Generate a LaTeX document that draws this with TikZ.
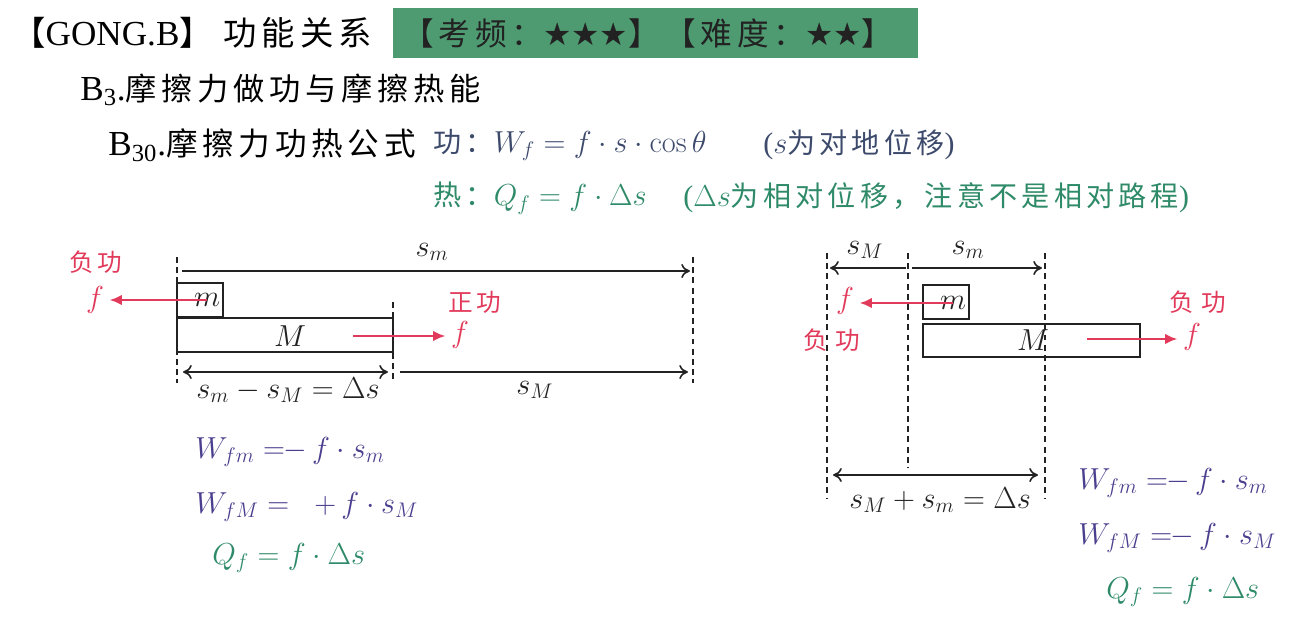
\documentclass[tikz,border=0pt]{standalone}
\usepackage[no-math]{fontspec}
\setmainfont{Liberation Serif}
\newfontfamily\cjk[LetterSpace=15]{Noto Sans CJK SC}
\newfontfamily\symfont{DejaVu Sans}
\usetikzlibrary{arrows.meta,positioning}

\definecolor{frcol}{HTML}{E23A5A}
\definecolor{wcol}{HTML}{4A3F8E}
\definecolor{qcol}{HTML}{2E8A68}
\definecolor{bandcol}{HTML}{4E9B72}
\definecolor{inkcol}{HTML}{222222}
\definecolor{defcol}{HTML}{3D4A6C}

\newcommand{\fs}[1]{\fontsize{#1}{#1}\selectfont}

\tikzset{
  dimtip/.tip={To[length=5pt,width=8pt]},
  txt/.style={inner sep=0pt, anchor=west},
  mth/.style={inner sep=0pt, text=inkcol, font=\fs{17}},
  blk/.style={draw=inkcol, line width=1.1pt},
  guide/.style={draw=inkcol, line width=1pt, dash pattern=on 3.4pt off 2.4pt},
  dim/.style={draw=inkcol, line width=0.9pt, -dimtip},
  dimboth/.style={draw=inkcol, line width=0.9pt, dimtip-dimtip},
  force/.style={draw=frcol, line width=1.7pt, -{Latex[length=7pt,width=6pt]}, shorten >=3pt},
  flbl/.style={text=frcol, inner sep=0pt, font=\fs{17}},
  wlbl/.style={text=frcol, inner sep=0pt, font=\cjk\fs{14}},
}

\begin{document}
\begin{tikzpicture}[x=0.02cm, y=-0.02cm]
  \useasboundingbox (0,0) rectangle (1310,621);

  % heading
  \node[txt, font=\fs{20}] (title) at (12,33) {{\cjk\fs{19}【}GONG.B{\cjk\fs{19}】\hspace{6pt}功能关系}};
  \node[fill=bandcol, minimum width=10.5cm, minimum height=1cm, inner sep=0pt, anchor=north west] (band) at (393,8) {};
  \node[inner sep=0pt, text=inkcol, font=\cjk\fs{18}] (freq) at (648,33) {【考频：{\symfont ★★★}】【难度：{\symfont ★★}】};
  \node[txt, font=\fs{20}] (secBthree) at (80,90) {B\textsubscript{3}.{\cjk\fs{17.8}摩擦力做功与摩擦热能}};
  \node[txt, font=\fs{20}] (secBthirty) at (108,145) {B\textsubscript{30}.{\cjk\fs{18}摩擦力功热公式}};
  \node[txt, text=defcol, font=\fs{17}] (wdef) at (433,145) {{\cjk\fs{16}功：}$W_f = f\cdot s\cdot\cos\theta$};
  \node[txt, text=defcol, font=\fs{17}] (wnote) at (763,145) {($s${\cjk\fs{16}为对地位移})};
  \node[txt, text=qcol, font=\fs{17}] (qdef) at (433,198) {{\cjk\fs{16}热：}$Q_f = f\cdot\Delta s$};
  \node[txt, text=qcol, font=\fs{17}] (qnote) at (683,198) {($\Delta s${\cjk\fs{16}为相对位移，注意不是相对路程})};

  % left: m and M move the same way
  \draw[guide] (177,257) coordinate (gA) -- (177,383) coordinate (gAe);
  \draw[guide] (393,302) coordinate (gB) -- (393,383) coordinate (gBe);
  \draw[guide] (693,257) coordinate (gC) -- (693,383) coordinate (gCe);
  \draw[blk] (177,283) rectangle (223,317);
  \draw[blk] (177,318) rectangle (393,352);
  \node[mth] (mA) at (207,300) {$m$};
  \node[mth] (MA) at (290,336) {$M$};
  \node[flbl] (fA) at (95,300) {$f$};
  \node[wlbl] (fAw) at (96,262) {负功};
  \draw[force] (mA.center) -- (mA.center -| fA.east);
  \coordinate (fBs) at (353,336);
  \node[flbl] (fB) at (460,335) {$f$};
  \node[wlbl] (fBw) at (475,302) {正功};
  \draw[force] (fBs) -- (fBs -| fB.west);
  \coordinate (tA) at (182,271);
  \coordinate (tC) at (690,271);
  \draw[dim] (tA) -- (tC);
  \node[mth] (smA) at (432,252) {$s_m$};
  \coordinate (bA) at (183,372);
  \coordinate (bB) at (388,372);
  \coordinate (bBr) at (400,372);
  \coordinate (bC) at (688,372);
  \draw[dimboth] (bA) -- (bB);
  \draw[dim] (bBr) -- (bC);
  \node[mth] (dsA) at (288,390) {$s_m - s_M = \Delta s$};
  \node[mth] (sMA) at (535,390) {$s_M$};

  % right: m and M move opposite ways
  \draw[guide] (827,253) coordinate (hA) -- (827,498) coordinate (hAe);
  \draw[guide] (908,253) coordinate (hB) -- (908,468) coordinate (hBe);
  \draw[guide] (1045,253) coordinate (hC) -- (1045,498) coordinate (hCe);
  \draw[blk] (923,285) rectangle (969,319);
  \draw[blk] (923,324) rectangle (1140,357);
  \node[mth] (mB) at (953,303) {$m$};
  \node[mth] (MB) at (1033,340) {$M$};
  \node[flbl] (fC) at (845,301) {$f$};
  \node[wlbl] (fCw) at (832,340) {负\hspace{4pt}功};
  \draw[force] (mB.center) -- (mB.center -| fC.east);
  \coordinate (fDs) at (1087,339);
  \node[flbl] (fD) at (1192,337) {$f$};
  \node[wlbl] (fDw) at (1198,302) {负\hspace{4pt}功};
  \draw[force] (fDs) -- (fDs -| fD.west);
  \coordinate (uA) at (830,268);
  \coordinate (uB) at (906,268);
  \coordinate (uBr) at (912,268);
  \coordinate (uC) at (1042,268);
  \draw[dim] (uB) -- (uA);
  \draw[dim] (uBr) -- (uC);
  \node[mth] (sMB) at (865,250) {$s_M$};
  \node[mth] (smB) at (968,250) {$s_m$};
  \coordinate (vA) at (833,475);
  \coordinate (vC) at (1038,475);
  \draw[dimboth] (vA) -- (vC);
  \node[mth] (dsB) at (940,500) {$s_M + s_m = \Delta s$};

  % work and heat
  \node[txt, text=wcol, font=\fs{18}] (wmA) at (195,452) {$W_{fm} =\!\!{-}\,f\cdot s_m$};
  \node[txt, text=wcol, font=\fs{18}] (wMA) at (195,507) {$W_{fM} = \;\;{+}\,f\cdot s_M$};
  \node[txt, text=qcol, font=\fs{18}] (qA) at (212,558) {$Q_f = f\cdot\Delta s$};
  \node[txt, text=wcol, font=\fs{18}] (wmB) at (1078,483) {$W_{fm} =\!\!{-}\,f\cdot s_m$};
  \node[txt, text=wcol, font=\fs{18}] (wMB) at (1078,538) {$W_{fM} =\!\!{-}\,f\cdot s_M$};
  \node[txt, text=qcol, font=\fs{18}] (qB) at (1106,592) {$Q_f = f\cdot\Delta s$};
\end{tikzpicture}
\end{document}
